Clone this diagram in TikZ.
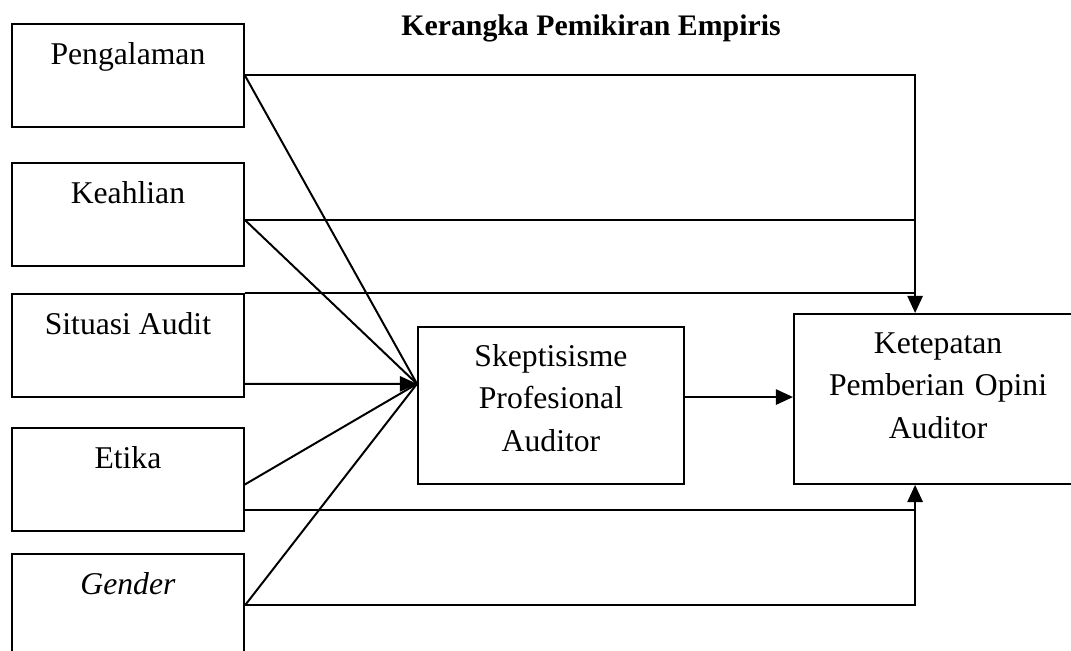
\documentclass[tikz,border=0pt]{standalone}
\usepackage{fontspec}
\setmainfont{Liberation Serif}
\usetikzlibrary{arrows.meta}

\tikzset{
  var/.style={draw, inner sep=0pt, minimum width=87.9pt, text height=15.5pt, text depth=23.5pt, anchor=north west},
  mid/.style={draw, inner sep=0pt, align=center, text height=14.8pt, anchor=north west},
}

\begin{document}
\begin{tikzpicture}[x=0.379pt,y=-0.379pt,line width=0.75pt,>={Triangle[length=6.5pt,width=5.8pt]},font=\fontsize{12}{16.1}\selectfont]
\useasboundingbox (0,0) rectangle (1071,650);
\clip (0,0) rectangle (1071,650);
\node[font=\fontsize{11.3}{13.5}\selectfont\bfseries, anchor=base] (title) at (591,35) {Kerangka Pemikiran Empiris};
\node[var] (peng) at (11,23) {Pengalaman};
\node[var] (keah) at (11,162) {Keahlian};
\node[var] (situ) at (11,293) {Situasi Audit};
\node[var] (etika) at (11,427) {Etika};
\node[var] (gender) at (11,553) {\textit{Gender}};
\node[mid, text width=100.8pt, text depth=44.7pt] (skep) at (417,326) {Skeptisisme\\Profesional\\Auditor};
\node[mid, text width=109.2pt, text depth=49.6pt] (ketep) at (793,313) {Ketepatan\\Pemberian Opini\\Auditor};
\coordinate (hub) at ([yshift=8.2pt]skep.west);
\coordinate (pin) at ([xshift=-8.7pt]ketep.north);
\coordinate (pout) at ([xshift=-8.7pt]ketep.south);
% direct paths to Ketepatan
\draw[->] (peng.east) -| (pin);
\draw ([yshift=-2.1pt]keah.east) -- ([yshift=-2.1pt]keah.east -| pin);
\draw (situ.north east) -- (situ.north east -| pin);
\draw ([yshift=-11.7pt]etika.east) -- ([yshift=-11.7pt]etika.east -| pout);
\draw[->] (gender.east) -| (pout);
% paths through Skeptisisme
\draw (peng.east) -- (hub);
\draw ([yshift=-2.1pt]keah.east) -- (hub);
\draw[->] ([yshift=-14.6pt]situ.east) -- (hub);
\draw ([yshift=-1.9pt]etika.east) -- (hub);
\draw (gender.east) -- (hub);
\draw[->] ([yshift=3.2pt]skep.east) -- ([yshift=3.2pt]skep.east -| ketep.west);
\end{tikzpicture}
\end{document}
